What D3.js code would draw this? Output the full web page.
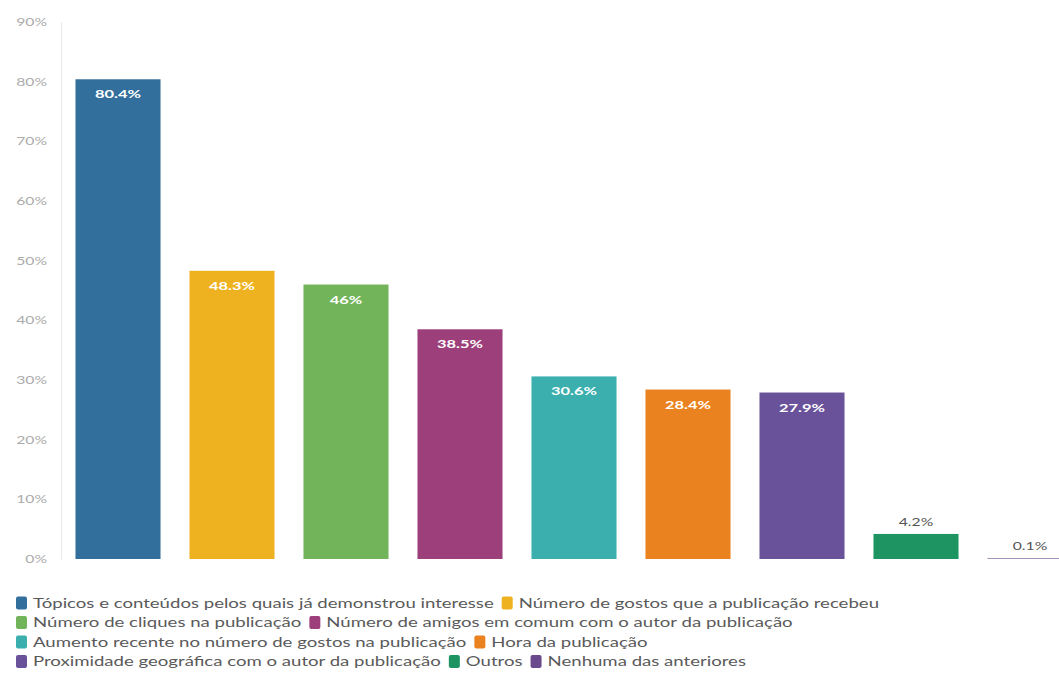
<!DOCTYPE html>
<html>
<head>
<meta charset="utf-8">
<script src="https://cdn.jsdelivr.net/npm/d3@7"></script>
<style>
  html, body { margin: 0; padding: 0; background: #fff; }
  svg { display: block; font-family: Lato, "Open Sans", sans-serif; }
</style>
</head>
<body>
<svg id="chart" width="1059" height="686"></svg>
<script>
// Categories, values and colours for the bar chart
const categories = [
  "Tópicos e conteúdos pelos quais já demonstrou interesse",
  "Número de gostos que a publicação recebeu",
  "Número de cliques na publicação",
  "Número de amigos em comum com o autor da publicação",
  "Aumento recente no número de gostos na publicação",
  "Hora da publicação",
  "Proximidade geográfica com o autor da publicação",
  "Outros",
  "Nenhuma das anteriores"
];
const values = [80.4, 48.3, 46, 38.5, 30.6, 28.4, 27.9, 4.2, 0.1];
const colors = ["#336f9c", "#eeb220", "#72b45a", "#9c3f7a", "#3aafae", "#ea831f", "#6a529a", "#1f9463", "#6a4a8c"];
const yTicks = [0, 10, 20, 30, 40, 50, 60, 70, 80, 90];

// Legend rows as rendered (indices into categories)
const legendRows = [[0, 1], [2, 3], [4, 5], [6, 7, 8]];

// Text is drawn with a wide horizontal stretch
const SX = 1.43;

const svg = d3.select("#chart");

const x = d3.scaleBand()
  .domain(categories)
  .range([61, 1087])
  .paddingInner(0.254)
  .paddingOuter(0.127);

const y = d3.scaleLinear()
  .domain([0, 90])
  .range([559, 22]);

const fmt = v => `${v}%`;

// Y axis
const yAxis = svg.append("g")
  .attr("transform", "translate(61,0)")
  .call(d3.axisLeft(y).tickValues(yTicks).tickFormat(d => d + "%").tickSize(0));
yAxis.select(".domain").attr("stroke", "#e8e8e8");
yAxis.selectAll(".tick text")
  .attr("x", -14 / SX)
  .attr("transform", `scale(${SX},1)`)
  .attr("fill", "#ababab")
  .style("font-size", "11px")
  .style("font-family", "Lato, sans-serif");

// Bars
svg.append("g").selectAll("rect")
  .data(values)
  .join("rect")
  .attr("x", (d, i) => x(categories[i]))
  .attr("width", x.bandwidth())
  .attr("y", d => y(d))
  .attr("height", d => y(0) - y(d))
  .attr("fill", (d, i) => colors[i]);

// Value labels: inside tall bars, above short ones
const inside = d => y(0) - y(d) > 30;
svg.append("g").selectAll("text")
  .data(values)
  .join("text")
  .attr("transform", (d, i) => {
    const cx = x(categories[i]) + x.bandwidth() / 2;
    const cy = inside(d) ? y(d) + 19 : y(d) - 8;
    return `translate(${cx},${cy}) scale(${SX},1)`;
  })
  .attr("text-anchor", "middle")
  .attr("fill", d => (inside(d) ? "#ffffff" : "#555"))
  .style("font-size", d => (inside(d) ? "11.5px" : "11px"))
  .style("font-weight", d => (inside(d) ? "700" : "400"))
  .text(fmt);

// Legend
const legend = svg.append("g").style("font-size", "13px");
legendRows.forEach((row, r) => {
  let cx = 16;
  const cy = 603 + r * 19.5;
  row.forEach(i => {
    legend.append("rect")
      .attr("x", cx)
      .attr("y", cy - 6.5)
      .attr("width", 11)
      .attr("height", 13)
      .attr("rx", 2)
      .attr("fill", colors[i]);
    const t = legend.append("text")
      .attr("transform", `translate(${cx + 17},${cy}) scale(${SX},1)`)
      .attr("dy", "0.35em")
      .attr("fill", "#5a5a5a")
      .text(categories[i]);
    cx += 17 + t.node().getComputedTextLength() * SX + 8;
  });
});
</script>
</body>
</html>
